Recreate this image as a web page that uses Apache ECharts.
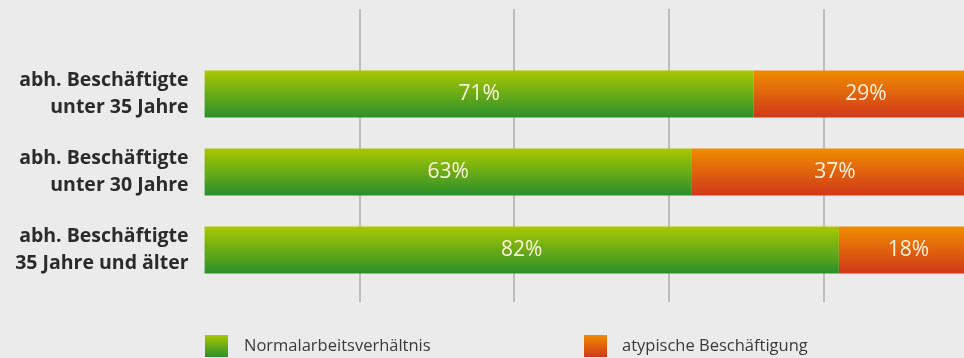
<!DOCTYPE html>
<html>
<head>
<meta charset="utf-8">
<style>
  html, body { margin: 0; padding: 0; background: #ebebeb; }
  #chart { width: 964px; height: 358px; }
</style>
<script src="https://cdn.jsdelivr.net/npm/echarts@6/dist/echarts.min.js"></script>
</head>
<body>
<div id="chart"></div>
<script>
// Beschäftigungsformen nach Altersgruppe (Anteile in %)
const categories = [
  'abh. Beschäftigte\nunter 35 Jahre',
  'abh. Beschäftigte\nunter 30 Jahre',
  'abh. Beschäftigte\n35 Jahre und älter'
];
const normal = [71, 63, 82];
const atypisch = [29, 37, 18];
const seriesNames = ['Normalarbeitsverhältnis', 'atypische Beschäftigung'];

const FONT = '"Open Sans", "Noto Sans", sans-serif';

// The 100 % scale runs a little past the right edge of the drawing area:
// plot width 759.4 px out of a full 773.5 px scale.
const PLOT_LEFT = 204.6;
const FULL_SCALE_PX = 773.5;
const PLOT_WIDTH = 964 - PLOT_LEFT;
const VISIBLE_MAX = 100 * PLOT_WIDTH / FULL_SCALE_PX;

const greenFill = new echarts.graphic.LinearGradient(0, 0, 0, 1, [
  { offset: 0, color: '#a9c800' },
  { offset: 1, color: '#2b8f2c' }
]);
const orangeFill = new echarts.graphic.LinearGradient(0, 0, 0, 1, [
  { offset: 0, color: '#ef8c00' },
  { offset: 1, color: '#d1381a' }
]);

const valueLabel = {
  show: true,
  position: 'inside',
  formatter: '{c}%',
  color: '#fdf3dc',
  fontFamily: FONT,
  fontSize: 21
};

const legendText = { color: '#3a3a3a', fontFamily: FONT, fontSize: 16.5 };

const chart = echarts.init(document.getElementById('chart'));
chart.setOption({
  backgroundColor: '#ebebeb',
  animation: false,
  grid: [
    // vertical guide lines at 20, 40, 60 and 80 %
    { left: PLOT_LEFT + FULL_SCALE_PX * 0.2, width: FULL_SCALE_PX * 0.6, top: 9, height: 293 },
    // bars
    { left: PLOT_LEFT, width: PLOT_WIDTH, top: 55, height: 234 }
  ],
  xAxis: [
    {
      gridIndex: 0, type: 'value', min: 20, max: 80, interval: 20,
      axisLine: { show: false }, axisTick: { show: false }, axisLabel: { show: false },
      splitLine: { show: true, lineStyle: { color: '#aeaeae', width: 1.5 } }
    },
    {
      gridIndex: 1, type: 'value', min: 0, max: VISIBLE_MAX,
      axisLine: { show: false }, axisTick: { show: false }, axisLabel: { show: false },
      splitLine: { show: false }
    }
  ],
  yAxis: [
    {
      gridIndex: 0, type: 'category', data: categories, show: false
    },
    {
      gridIndex: 1, type: 'category', data: categories, inverse: true,
      axisLine: { show: false }, axisTick: { show: false },
      axisLabel: {
        margin: 16,
        align: 'right',
        color: '#2b2b2b',
        fontFamily: FONT,
        fontWeight: 'bold',
        fontSize: 19.5,
        lineHeight: 27
      }
    }
  ],
  legend: [
    {
      data: [seriesNames[0]],
      left: 205, top: 335, padding: 0,
      itemWidth: 23, itemHeight: 22, itemGap: 16,
      icon: 'rect',
      textStyle: Object.assign({ padding: [0, 0, 0, 11] }, legendText)
    },
    {
      data: [seriesNames[1]],
      left: 584, top: 335, padding: 0,
      itemWidth: 23, itemHeight: 22, itemGap: 16,
      icon: 'rect',
      textStyle: Object.assign({ padding: [0, 0, 0, 10] }, legendText)
    }
  ],
  series: [
    {
      name: seriesNames[0], type: 'bar', stack: 'anteil',
      xAxisIndex: 1, yAxisIndex: 1,
      barWidth: 47, clip: false,
      data: normal,
      itemStyle: { color: greenFill },
      label: valueLabel
    },
    {
      name: seriesNames[1], type: 'bar', stack: 'anteil',
      xAxisIndex: 1, yAxisIndex: 1,
      barWidth: 47, clip: false,
      data: atypisch,
      itemStyle: { color: orangeFill },
      label: valueLabel
    }
  ]
});
</script>
</body>
</html>
